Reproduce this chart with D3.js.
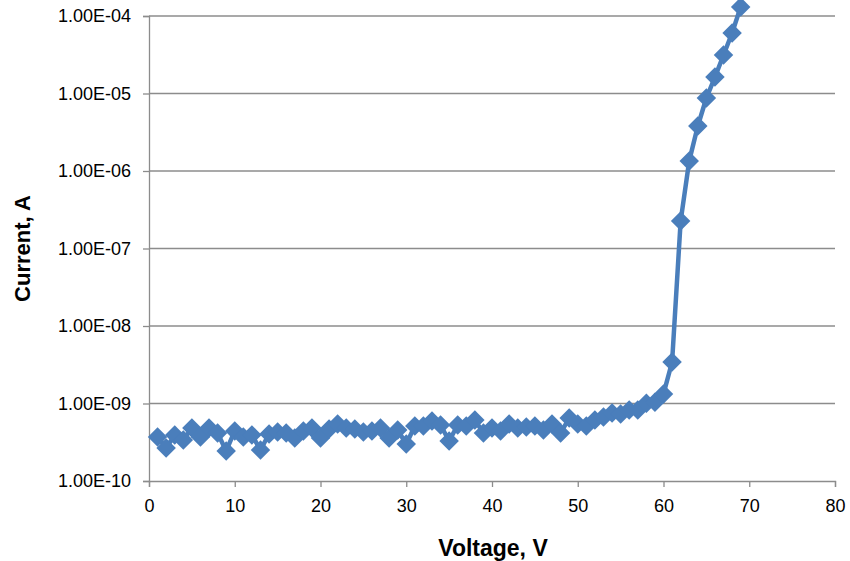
<!DOCTYPE html>
<html>
<head>
<meta charset="utf-8">
<script src="https://cdn.jsdelivr.net/npm/d3@7"></script>
<style>
  html, body { margin: 0; padding: 0; background: #fff; }
  svg { display: block; font-family: "Liberation Sans", Arial, sans-serif; }
</style>
</head>
<body>
<svg id="chart" width="850" height="561"></svg>
<script>
// Voltage (V)
const voltage = [1,2,3,4,5,6,7,8,9,10,11,12,13,14,15,16,17,18,19,20,
  21,22,23,24,25,26,27,28,29,30,31,32,33,34,35,36,37,38,39,40,
  41,42,43,44,45,46,47,48,49,50,51,52,53,54,55,56,57,58,59,60,
  61,62,63,64,65,66,67,68,69];
// Current (A)
const current = [3.70e-10,2.67e-10,3.93e-10,3.38e-10,4.83e-10,3.70e-10,4.83e-10,4.16e-10,2.44e-10,4.42e-10,
  3.70e-10,3.93e-10,2.51e-10,4.04e-10,4.29e-10,4.16e-10,3.59e-10,4.42e-10,4.83e-10,3.59e-10,
  4.69e-10,5.44e-10,4.83e-10,4.69e-10,4.29e-10,4.42e-10,4.83e-10,3.59e-10,4.55e-10,3.00e-10,
  5.13e-10,5.13e-10,5.95e-10,5.28e-10,3.28e-10,5.28e-10,5.13e-10,6.12e-10,4.16e-10,4.83e-10,
  4.42e-10,5.44e-10,4.83e-10,4.98e-10,5.13e-10,4.55e-10,5.44e-10,4.16e-10,6.50e-10,5.44e-10,
  5.13e-10,6.12e-10,6.70e-10,7.54e-10,7.32e-10,8.24e-10,8.24e-10,1.01e-9,1.04e-9,1.33e-9,
  3.43e-9,2.26e-7,1.35e-6,3.81e-6,8.75e-6,1.63e-5,3.14e-5,6.03e-5,1.31e-4];
const xTicks = [0,10,20,30,40,50,60,70,80];
const yTicks = [1e-10,1e-9,1e-8,1e-7,1e-6,1e-5,1e-4];
const yTickLabels = ["1.00E-10","1.00E-09","1.00E-08","1.00E-07","1.00E-06","1.00E-05","1.00E-04"];
const xTitle = "Voltage, V";
const yTitle = "Current, A";

const svg = d3.select("#chart");
const mLeft = 149, mRight = 835, mTop = 16, mBottom = 481;
const x = d3.scaleLinear().domain([0, 80]).range([mLeft, mRight]);
const y = d3.scaleLog().domain([1e-10, 1e-4]).range([mBottom, mTop]);
const gridColor = "#8c8c8c";
const seriesColor = "#4A7EBB";
const fontFam = "Liberation Sans, Arial, sans-serif";

// gridlines
svg.append("g").selectAll("line").data(yTicks.slice(1)).join("line")
  .attr("x1", mLeft).attr("x2", mRight)
  .attr("y1", d => y(d)).attr("y2", d => y(d))
  .attr("stroke", gridColor).attr("stroke-width", 1.3);

// y axis
const yAxis = d3.axisLeft(y).tickValues(yTicks).tickSize(6).tickPadding(12)
  .tickFormat((d, i) => yTickLabels[i]);
const gy = svg.append("g").attr("transform", `translate(${mLeft},0)`).call(yAxis);
gy.select(".domain").attr("stroke", gridColor).attr("stroke-width", 1.3);
gy.selectAll(".tick line").attr("stroke", gridColor).attr("stroke-width", 1.3);
gy.selectAll(".tick text").attr("font-size", 18).attr("fill", "#000").attr("font-family", fontFam);

// x axis
const xAxis = d3.axisBottom(x).tickValues(xTicks).tickSize(6).tickPadding(12);
const gx = svg.append("g").attr("transform", `translate(0,${mBottom})`).call(xAxis);
gx.select(".domain").attr("stroke", gridColor).attr("stroke-width", 1.3);
gx.selectAll(".tick line").attr("stroke", gridColor).attr("stroke-width", 1.3);
gx.selectAll(".tick text").attr("font-size", 18).attr("fill", "#000").attr("font-family", fontFam);

// titles
svg.append("text").attr("x", 493).attr("y", 556).attr("text-anchor", "middle")
  .attr("font-family", fontFam)
  .attr("font-size", 23).attr("font-weight", "bold").text(xTitle);
svg.append("text").attr("transform", `translate(30,${(mTop + mBottom) / 2}) rotate(-90)`)
  .attr("font-family", fontFam)
  .attr("text-anchor", "middle").attr("font-size", 22).attr("font-weight", "bold").text(yTitle);

// series
const pts = voltage.map((v, i) => [v, current[i]]);
svg.append("path").datum(pts)
  .attr("fill", "none").attr("stroke", seriesColor).attr("stroke-width", 4.5)
  .attr("stroke-linejoin", "round")
  .attr("d", d3.line().x(d => x(d[0])).y(d => y(d[1])));

svg.append("g").selectAll("path").data(pts).join("path")
  .attr("transform", d => `translate(${x(d[0])},${y(d[1])}) rotate(45)`)
  .attr("d", d3.symbol().type(d3.symbolSquare).size(190))
  .attr("fill", seriesColor);
</script>
</body>
</html>
